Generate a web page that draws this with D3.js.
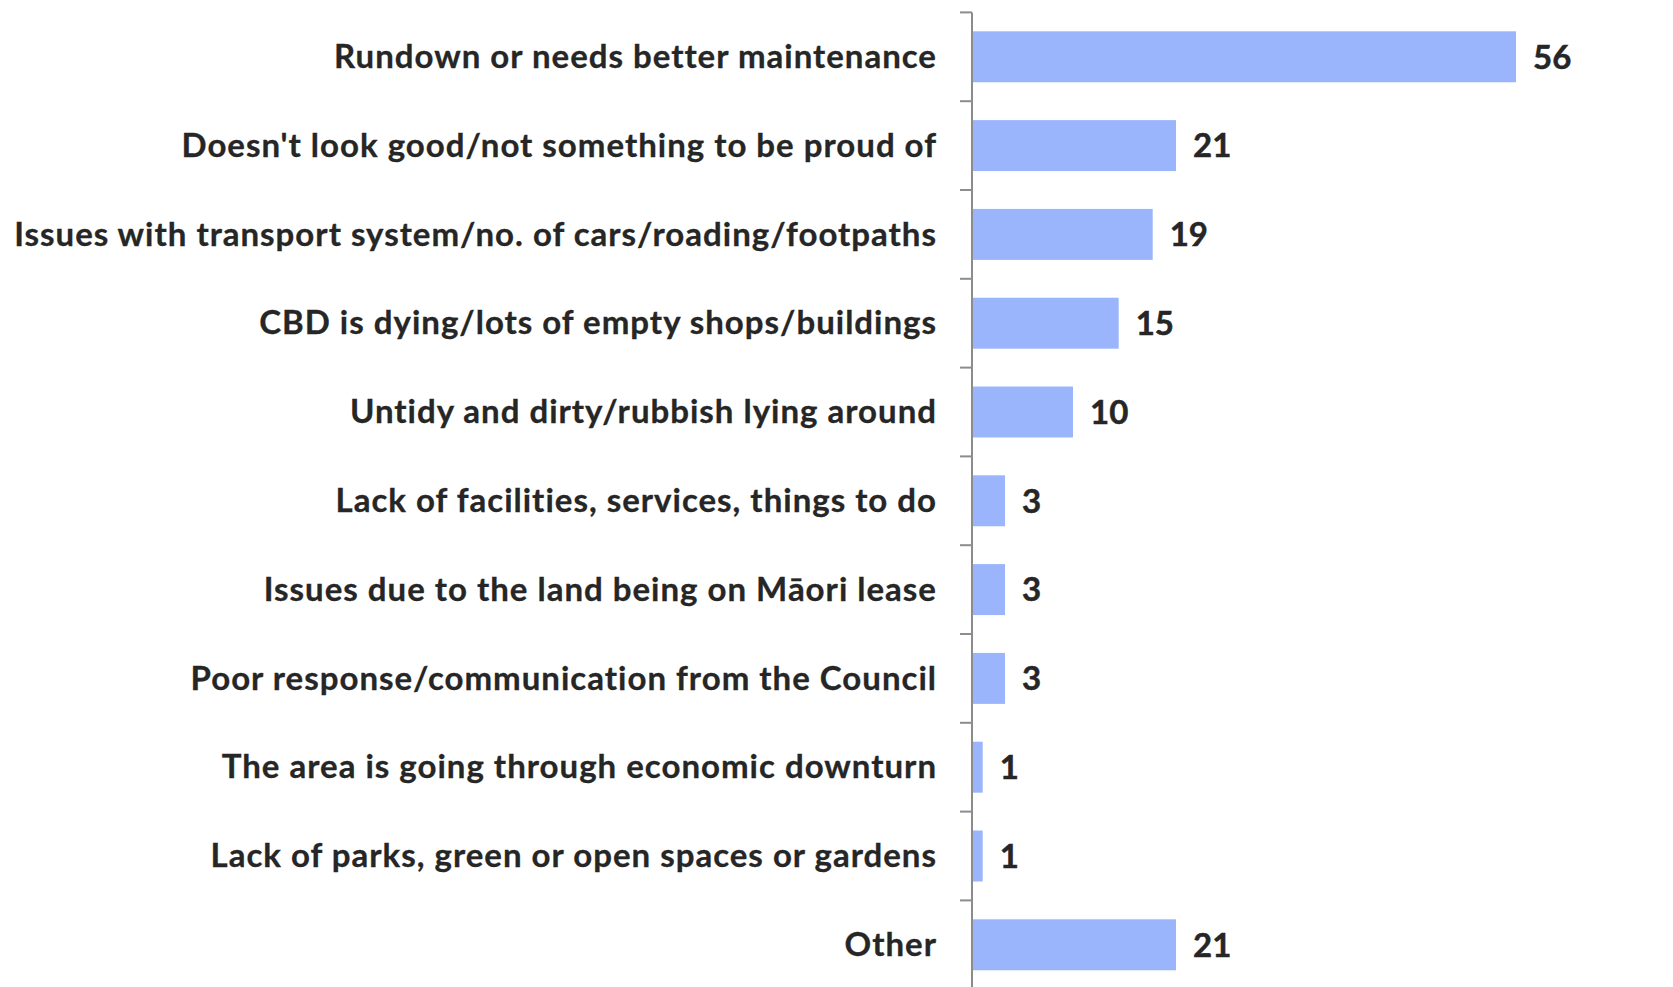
<!DOCTYPE html>
<html><head><meta charset="utf-8">
<script src="https://cdn.jsdelivr.net/npm/d3@7/dist/d3.min.js"></script>
<style>body{margin:0;background:#fff}svg{display:block}</style>
</head><body>
<svg id="c" width="1673" height="987"></svg>
<script>
const categories = [
  "Rundown or needs better maintenance",
  "Doesn't look good/not something to be proud of",
  "Issues with transport system/no. of cars/roading/footpaths",
  "CBD is dying/lots of empty shops/buildings",
  "Untidy and dirty/rubbish lying around",
  "Lack of facilities, services, things to do",
  "Issues due to the land being on Māori lease",
  "Poor response/communication from the Council",
  "The area is going through economic downturn",
  "Lack of parks, green or open spaces or gardens",
  "Other"
];
// bar lengths
const values = [56, 21, 18.6, 15.1, 10.4, 3.4, 3.4, 3.4, 1.1, 1.1, 21];
// data labels as printed
const valueLabels = ["56", "21", "19", "15", "10", "3", "3", "3", "1", "1", "21"];

const svg = d3.select("#c");
const x0 = 972;
const x = d3.scaleLinear().domain([0, 56]).range([x0, 1516]);
const yTop = 12.4, yStep = 88.8;
const y = d3.scaleBand().domain(categories).range([yTop, yTop + yStep*categories.length])
  .paddingInner(0.426).paddingOuter(0.213);

const font = "Lato, 'Open Sans', sans-serif";

svg.selectAll("rect.bar").data(values).join("rect")
  .attr("class","bar")
  .attr("x", x(0))
  .attr("y", (d,i)=>y(categories[i]))
  .attr("width", d=>x(d)-x(0))
  .attr("height", y.bandwidth())
  .attr("fill", "#9bb5fc");

const g = svg.append("g").attr("transform", `translate(${x0},0)`);
const bounds = d3.range(categories.length + 1).map(i => yTop + i*y.step());
g.append("line").attr("x1",0).attr("x2",0).attr("y1",yTop).attr("y2",yTop + yStep*categories.length)
  .attr("stroke","#8c8c8c").attr("stroke-width",2);
g.selectAll("line.tk").data(bounds).join("line").attr("class","tk")
  .attr("x1",-12).attr("x2",0).attr("y1",d=>d).attr("y2",d=>d)
  .attr("stroke","#8c8c8c").attr("stroke-width",2);

svg.selectAll("text.cat").data(categories).join("text")
  .attr("class","cat")
  .attr("x", 937)
  .attr("y", d=>y(d)+y.bandwidth()/2)
  .attr("dy","0.34em")
  .attr("text-anchor","end")
  .attr("font-family",font)
  .attr("font-weight","bold")
  .attr("font-size","33px")
  .attr("letter-spacing","1px")
  .attr("fill","#262626")
  .attr("stroke","#262626")
  .attr("stroke-width",0.3)
  .text(d=>d);

svg.selectAll("text.val").data(values).join("text")
  .attr("class","val")
  .attr("x", d=>x(d)+17)
  .attr("y", (d,i)=>y(categories[i])+y.bandwidth()/2)
  .attr("dy","0.36em")
  .attr("font-family",font)
  .attr("font-weight","bold")
  .attr("font-size","33px")
  .attr("fill","#262626")
  .attr("stroke","#262626")
  .attr("stroke-width",0.5)
  .text((d,i)=>valueLabels[i]);
</script>
</body></html>
